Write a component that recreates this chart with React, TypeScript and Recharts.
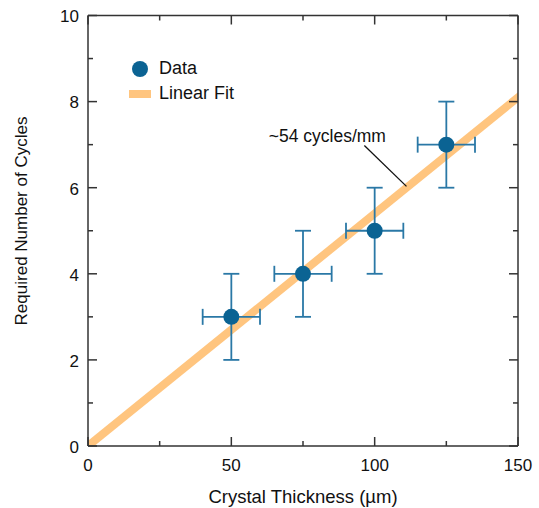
import React from 'react'
import {
  ComposedChart, Line, Scatter, XAxis, YAxis, ErrorBar,
  ReferenceLine, ReferenceDot, Legend,
} from 'recharts'

// measured points
const thickness = [50, 75, 100, 125]
const cycles = [3, 4, 5, 7]
const thicknessErr = [10, 10, 10, 10]
const cyclesErr = [1, 1, 1, 1]

// linear fit, ~54 cycles/mm, drawn a bit past the frame so it gets clipped
const fitX = [-5, 155]
const fitY = [-0.27, 8.37]

const xTicks = [0, 25, 50, 75, 100, 125, 150]
const xLabels = [0, 50, 100, 150]
const yTicks = [0, 1, 2, 3, 4, 5, 6, 7, 8, 9, 10]
const yLabels = [0, 2, 4, 6, 8, 10]

const points = thickness.map((x, i) => ({ x, y: cycles[i], ex: thicknessErr[i], ey: cyclesErr[i] }))
const fit = fitX.map((x, i) => ({ x, fit: fitY[i] }))

const DOT = '#0b6393'
const BAR = '#2a78a6'
const FIT = '#ffc57f'
const AXIS = '#333333'
const FONT = 'Arial, "Liberation Sans", sans-serif'

const MAJOR = 9
const MINOR = 5

// ticks point inward; labels only on bottom / left
const BottomTick = (p: any) => {
  const v = p.payload.value
  const major = xLabels.includes(v)
  return (
    <g>
      <line x1={p.x} x2={p.x} y1={p.y} y2={p.y - (major ? MAJOR : MINOR)} stroke={AXIS} strokeWidth={1.5} />
      {major && (
        <text x={p.x} y={p.y + 25} textAnchor="middle" fontSize={17} fontFamily={FONT} fill="#111">{v}</text>
      )}
    </g>
  )
}

const TopTick = (p: any) => {
  const major = xLabels.includes(p.payload.value)
  return <line x1={p.x} x2={p.x} y1={p.y} y2={p.y + (major ? MAJOR : MINOR)} stroke={AXIS} strokeWidth={1.5} />
}

const LeftTick = (p: any) => {
  const v = p.payload.value
  const major = yLabels.includes(v)
  return (
    <g>
      <line x1={p.x} x2={p.x + (major ? MAJOR : MINOR)} y1={p.y} y2={p.y} stroke={AXIS} strokeWidth={1.5} />
      {major && (
        <text x={p.x - 9} y={p.y + 6.8} textAnchor="end" fontSize={17} fontFamily={FONT} fill="#111">{v}</text>
      )}
    </g>
  )
}

const RightTick = (p: any) => {
  const major = yLabels.includes(p.payload.value)
  return <line x1={p.x} x2={p.x - (major ? MAJOR : MINOR)} y1={p.y} y2={p.y} stroke={AXIS} strokeWidth={1.5} />
}

const YTitle = () => {
  const cx = 21
  const cy = 221
  return (
    <text x={cx} y={cy} transform={`rotate(-90 ${cx} ${cy})`} textAnchor="middle" dominantBaseline="central"
      fontSize={17} fontFamily={FONT} fill="#111">
      Required Number of Cycles
    </text>
  )
}

const Annotation = (p: any) => (
  <text x={p.viewBox?.x ?? p.x} y={(p.viewBox?.y ?? p.y) + 6} textAnchor="middle" fontSize={17.5} fontFamily={FONT} fill="#111">
    ~54 cycles/mm
  </text>
)

const LegendBox = () => (
  <div style={{ fontFamily: FONT, fontSize: 18, color: '#111', lineHeight: '25px' }}>
    <div style={{ display: 'flex', alignItems: 'center', height: 25 }}>
      <svg width={24} height={20}><circle cx={12} cy={10} r={8} fill={DOT} /></svg>
      <span style={{ marginLeft: 7 }}>Data</span>
    </div>
    <div style={{ display: 'flex', alignItems: 'center', height: 25 }}>
      <svg width={24} height={20}><rect x={1} y={6} width={22} height={8} fill={FIT} /></svg>
      <span style={{ marginLeft: 7 }}>Linear Fit</span>
    </div>
  </div>
)

export default function App() {
  return (
    <div style={{ position: 'absolute', left: 0, top: 0, background: '#fff' }}>
      <ComposedChart width={539} height={508} margin={{ top: 14.5, right: 20, bottom: 0, left: 0 }}>
        <XAxis
          dataKey="x" type="number" domain={[0, 150]} ticks={xTicks} allowDataOverflow
          tickSize={0} tickMargin={0} tickLine={false} tick={<BottomTick />} interval={0}
          axisLine={{ stroke: AXIS, strokeWidth: 1.5 }} height={62}
          label={{ value: 'Crystal Thickness (µm)', position: 'insideBottom', offset: 5, fontSize: 18.5, fontFamily: FONT, fill: '#111' }}
        />
        <XAxis
          xAxisId="top" orientation="top" dataKey="x" type="number" domain={[0, 150]} ticks={xTicks} allowDataOverflow
          tickSize={0} tickMargin={0} tickLine={false} tick={<TopTick />} interval={0}
          axisLine={{ stroke: AXIS, strokeWidth: 1.5 }} height={1}
        />
        <YAxis
          type="number" domain={[0, 10]} ticks={yTicks} allowDataOverflow
          tickSize={0} tickMargin={0} tickLine={false} tick={<LeftTick />} interval={0}
          axisLine={{ stroke: AXIS, strokeWidth: 1.5 }} width={88}
          label={<YTitle />}
        />
        <YAxis
          yAxisId="right" orientation="right" type="number" domain={[0, 10]} ticks={yTicks} allowDataOverflow
          tickSize={0} tickMargin={0} tickLine={false} tick={<RightTick />} interval={0}
          axisLine={{ stroke: AXIS, strokeWidth: 1.5 }} width={1}
        />
        {/* vertical + center + middle keeps the legend out of the plot offset */}
        <Legend
          verticalAlign="middle" align="center" layout="vertical" content={<LegendBox />}
          wrapperStyle={{ top: 56, left: 128, width: 'auto', height: 'auto' }}
        />
        {/* invisible series so the frame axes get a scale */}
        <Line
          data={fit} dataKey="fit" xAxisId="top" yAxisId="right" stroke="none"
          dot={false} activeDot={false} isAnimationActive={false} legendType="none"
        />
        <Line
          data={fit} dataKey="fit" type="linear" stroke={FIT} strokeWidth={8}
          dot={false} activeDot={false} isAnimationActive={false} legendType="none"
        />
        <ReferenceLine
          segment={[{ x: 96.4, y: 6.98 }, { x: 111.1, y: 6.03 }]}
          stroke="#111" strokeWidth={1.3}
        />
        <ReferenceDot x={83.5} y={7.21} r={0} fill="none" stroke="none" label={<Annotation />} />
        <Scatter data={points} dataKey="y" fill={DOT} isAnimationActive={false} shape={(p: any) => <circle cx={p.cx} cy={p.cy} r={8} fill={DOT} />}>
          <ErrorBar dataKey="ey" direction="y" width={8} stroke={BAR} strokeWidth={1.8} />
          <ErrorBar dataKey="ex" direction="x" width={8} stroke={BAR} strokeWidth={1.8} />
        </Scatter>
      </ComposedChart>
    </div>
  )
}
